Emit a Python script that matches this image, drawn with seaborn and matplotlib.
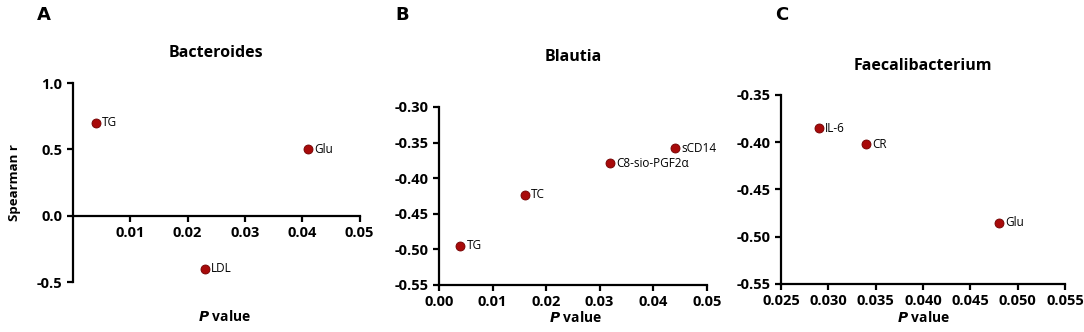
import numpy as np
import pandas as pd
import matplotlib
matplotlib.use("Agg")
import matplotlib.pyplot as plt
import seaborn as sns

# Panel A - Bacteroides
a_names = ["TG", "Glu", "LDL"]
a_p = [0.004, 0.041, 0.023]
a_r = [0.70, 0.50, -0.40]

# Panel B - Blautia
b_names = ["TG", "TC", "C8-sio-PGF2α", "sCD14"]
b_p = [0.004, 0.016, 0.032, 0.044]
b_r = [-0.495, -0.423, -0.379, -0.358]

# Panel C - Faecalibacterium
c_names = ["IL-6", "CR", "Glu"]
c_p = [0.029, 0.034, 0.048]
c_r = [-0.385, -0.402, -0.485]

sns.set_style("ticks")
plt.rcParams["font.family"] = ["Open Sans", "DejaVu Sans"]
plt.rcParams.update({"text.color": "black", "axes.labelcolor": "black",
                     "xtick.color": "black", "ytick.color": "black"})

fig = plt.figure(figsize=(10.84, 3.32), dpi=100)
axA = fig.add_axes([0.0673, 0.1506, 0.2645, 0.5994])
axB = fig.add_axes([0.405, 0.1416, 0.247, 0.5364])
axC = fig.add_axes([0.7205, 0.1446, 0.262, 0.5694])

# spine for panel A crosses at r = 0 (set before tick labels, it resets ticks)
axA.spines["bottom"].set_position(("data", 0))

panels = [
    (axA, a_names, a_p, a_r, "Bacteroides", 1.13),
    (axB, b_names, b_p, b_r, "Blautia", 1.255),
    (axC, c_names, c_p, c_r, "Faecalibacterium", 1.13),
]

for ax, names, p, r, title, ty in panels:
    df = pd.DataFrame({"p": p, "r": r, "name": names})
    sns.scatterplot(data=df, x="p", y="r", ax=ax, s=42, color="#a80a0a",
                    edgecolor="#700000", linewidth=0.6, zorder=3, clip_on=False)
    for _, row in df.iterrows():
        ax.annotate(row["name"], (row["p"], row["r"]), xytext=(4.5, 0),
                    textcoords="offset points", va="center", ha="left",
                    fontsize=8.5)
    sns.despine(ax=ax)
    for s in ["left", "bottom"]:
        ax.spines[s].set_linewidth(1.6)
        ax.spines[s].set_color("black")
    ax.tick_params(width=1.6, length=4, labelsize=10.5, color="black")
    ax.set_title(title, fontsize=11.5, fontweight="bold", y=ty, pad=0)
    ax.set_ylabel("")
    ax.set_xlabel("$\\bfit{P}$ value", fontsize=10, fontweight="bold")


def bold_ticks(ax, xt, xl, yt, yl):
    ax.set_xticks(xt)
    ax.set_xticklabels(xl, fontweight="bold")
    ax.set_yticks(yt)
    ax.set_yticklabels(yl, fontweight="bold")


# Panel A axes
axA.set_xlim(0, 0.05)
axA.set_ylim(-0.5, 1.0)
bold_ticks(axA, [0.01, 0.02, 0.03, 0.04, 0.05], ["0.01", "0.02", "0.03", "0.04", "0.05"],
           [-0.5, 0.0, 0.5, 1.0], ["-0.5", "0.0", "0.5", "1.0"])
axA.set_ylabel("Spearman r", fontsize=9.5, fontweight="bold")
axA.yaxis.set_label_coords(-0.18, 0.5)
axA.xaxis.set_label_coords(0.53, -0.135)

# Panel B axes
axB.set_xlim(0, 0.05)
axB.set_ylim(-0.55, -0.30)
bold_ticks(axB, [0.0, 0.01, 0.02, 0.03, 0.04, 0.05],
           ["0.00", "0.01", "0.02", "0.03", "0.04", "0.05"],
           [-0.55, -0.50, -0.45, -0.40, -0.35, -0.30],
           ["-0.55", "-0.50", "-0.45", "-0.40", "-0.35", "-0.30"])
axB.xaxis.set_label_coords(0.51, -0.14)

# Panel C axes
axC.set_xlim(0.025, 0.055)
axC.set_ylim(-0.55, -0.35)
bold_ticks(axC, [0.025, 0.030, 0.035, 0.040, 0.045, 0.050, 0.055],
           ["0.025", "0.030", "0.035", "0.040", "0.045", "0.050", "0.055"],
           [-0.55, -0.50, -0.45, -0.40, -0.35],
           ["-0.55", "-0.50", "-0.45", "-0.40", "-0.35"])
axC.xaxis.set_label_coords(0.5, -0.135)

for x, letter in [(0.034, "A"), (0.365, "B"), (0.715, "C")]:
    fig.text(x, 0.955, letter, fontsize=13, fontweight="bold", family="DejaVu Sans",
             va="center", ha="left")

fig.savefig("out.png", dpi=100)
